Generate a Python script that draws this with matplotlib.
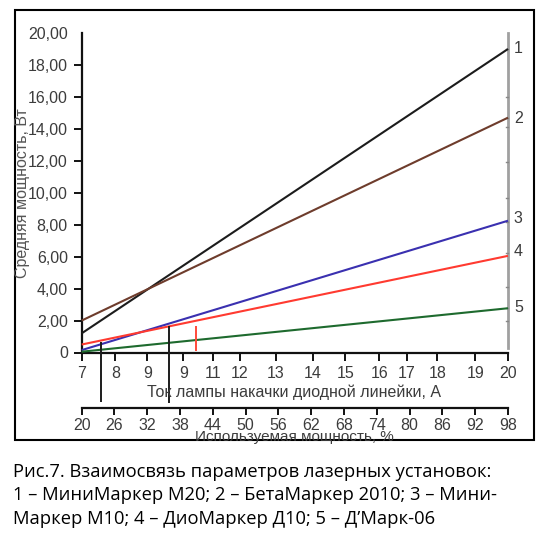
import matplotlib
matplotlib.use("Agg")
import matplotlib.pyplot as plt
from matplotlib.patches import Rectangle

# ---- data ----
current = [7, 20]                       # A
p1 = [1.2, 19.0]    # МиниМаркер М20
p2 = [2.0, 14.7]    # БетаМаркер 2010
p3 = [0.15, 8.25]   # МиниМаркер М10
p4 = [0.5, 6.05]    # ДиоМаркер Д10
p5 = [0.05, 2.77]   # Д'Марк-06
series = [p1, p2, p3, p4, p5]
series_names = ["1", "2", "3", "4", "5"]
series_colors = ["#1c1c1c", "#6e3c2c", "#3a30b0", "#ff3a30", "#1e6a2e"]

x_tick_pos = [7, 8.03, 9, 10.1, 11, 11.82, 12.92, 14.05, 15.04, 16.08, 16.92, 17.85, 19.0, 20]
x_tick_lab = ["7", "8", "9", "9", "11", "12", "13", "14", "15", "16", "17", "18", "19", "20"]
y_ticks = [0, 2, 4, 6, 8, 10, 12, 14, 16, 18, 20]
y_tick_lab = ["0", "2,00", "4,00", "6,00", "8,00", "10,00", "12,00", "14,00",
              "16,00", "18,00", "20,00"]
pct_ticks = [20, 26, 32, 38, 44, 50, 56, 62, 68, 74, 80, 86, 92, 98]

# marker (vertical) lines: current, y-bottom, y-top
mark_black_x = [7.59, 9.67]
mark_black_y0 = [-3.08, -3.16]
mark_black_y1 = [0.68, 1.66]
mark_red_x = [10.49]
mark_red_y0 = [0.1]
mark_red_y1 = [1.66]

# right scale ticks (values on the grey line at I = 20)
right_scale_top = 20.0
right_scale_bottom = 0.3
right_scale_ticks = [19.0, 16.0, 14.7, 14.1, 11.9, 9.7, 8.2, 6.2, 4.1, 2.8, 2.0]
label_y = [19.0, 14.65, 8.4, 6.3, 2.8]

W, H = 554, 542
fig = plt.figure(figsize=(W / 100, H / 100), dpi=100)
fig.patch.set_facecolor("white")

tick_font = "Liberation Sans"
txt_col = "#3c3c3c"

ax = fig.add_axes([81.7 / W, 1 - 352.5 / H, (508 - 81.7) / W, (352.5 - 33) / H])
ax.set_xlim(7, 20)
ax.set_ylim(0, 20)
ax.patch.set_alpha(0)

for s, c in zip(series, series_colors):
    ax.plot(current, s, color=c, lw=1.5, solid_capstyle="butt", clip_on=False, zorder=3)

# grey right scale
ax.plot([20, 20], [right_scale_bottom, right_scale_top], color="#a0a0a0", lw=2.0,
        clip_on=False, zorder=2)
for v in right_scale_ticks:
    ax.plot([19.93, 20], [v, v], color="#888888", lw=1.0, clip_on=False, zorder=2)

for name, yv in zip(series_names, label_y):
    ax.text(20.18, yv, name, fontsize=11.5, family=tick_font, color=txt_col,
            ha="left", va="center", clip_on=False)

ax.vlines(mark_black_x, mark_black_y0, mark_black_y1, color="#1c1c1c", lw=1.4,
          clip_on=False, zorder=4)
ax.vlines(mark_red_x, mark_red_y0, mark_red_y1, color="#ff4a3a", lw=1.4,
          clip_on=False, zorder=4)

for side in ("top", "right"):
    ax.spines[side].set_visible(False)
for side in ("left", "bottom"):
    ax.spines[side].set_linewidth(1.6)
    ax.spines[side].set_color("#111111")

ax.set_yticks(y_ticks)
ax.set_yticklabels(y_tick_lab)
ax.set_xticks(x_tick_pos)
ax.set_xticklabels(x_tick_lab)
ax.tick_params(axis="y", direction="out", length=6, width=1.4, pad=4,
               labelsize=11.5, labelcolor=txt_col, color="#111111")
ax.tick_params(axis="x", direction="out", length=6, width=1.4, pad=4,
               labelsize=11.5, labelcolor=txt_col, color="#111111")
ax.yaxis.get_major_ticks()[-1].tick1line.set_visible(False)
for lab in ax.get_xticklabels() + ax.get_yticklabels():
    lab.set_family(tick_font)

sec = ax.secondary_xaxis((352.5 - 408.3) / (352.5 - 33),
                         functions=(lambda x: 6 * x - 22, lambda p: (p + 22) / 6))
sec.set_xticks(pct_ticks)
sec.set_xticklabels([str(p) for p in pct_ticks])
sec.spines["bottom"].set_linewidth(1.6)
sec.spines["bottom"].set_color("#111111")
sec.tick_params(axis="x", direction="out", length=5, width=1.4, pad=2,
                labelsize=11.5, labelcolor=txt_col, color="#111111")
for lab in sec.get_xticklabels():
    lab.set_family(tick_font)

fig.text(22.7 / W, 1 - 193 / H, "Средняя мощность, Вт", rotation=90, ha="center",
         va="center", fontsize=11.5, family=tick_font, color="#555555")
fig.text(294 / W, 1 - 392 / H, "Ток лампы накачки диодной линейки, А", ha="center",
         va="center", fontsize=11.5, family=tick_font, color=txt_col)
fig.text(294 / W, 1 - 437 / H, "Используемая мощность, %", ha="center",
         va="center", fontsize=11, family=tick_font, color=txt_col)

fig.patches.append(Rectangle((15 / W, 1 - 440 / H), (534 - 15) / W, (440 - 10) / H,
                             transform=fig.transFigure, fill=False, lw=1.5,
                             edgecolor="black"))

caption = ["Рис.7. Взаимосвязь параметров лазерных установок:",
           "1 – МиниМаркер М20; 2 – БетаМаркер 2010; 3 – Мини-",
           "Маркер М10; 4 – ДиоМаркер Д10; 5 – Д’Марк-06"]
for i, line in enumerate(caption):
    fig.text(13 / W, 1 - (472 + 23.3 * i) / H, line, ha="left", va="center",
             fontsize=13.2, family="Open Sans", color="black")

fig.savefig("out.png", dpi=100, facecolor="white")
